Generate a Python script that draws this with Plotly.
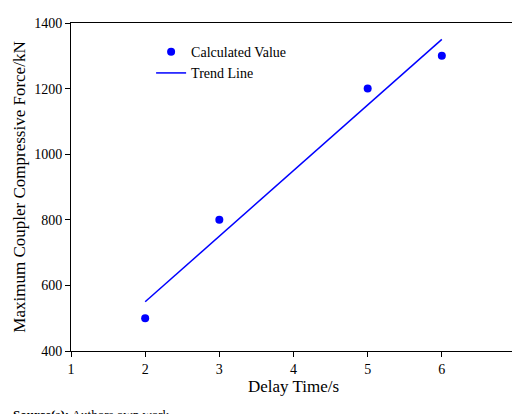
import plotly.graph_objects as go

delay = [2, 3, 5, 6]
force = [500, 800, 1200, 1300]
trend_x = [2, 6]
trend_y = [550, 1350]

fig = go.Figure()
fig.add_trace(go.Scatter(x=delay, y=force, mode='markers', name='Calculated Value',
                         marker=dict(color='#0000ff', size=8)))
fig.add_trace(go.Scatter(x=trend_x, y=trend_y, mode='lines', name='Trend Line',
                         line=dict(color='#0000ff', width=1.5)))

axis = dict(showline=True, linecolor='black', linewidth=1, mirror=True,
            ticks='outside', ticklen=5, tickcolor='black', showgrid=False, zeroline=False)
fig.update_xaxes(range=[1, 7], dtick=1, title=dict(text='Delay Time/s', standoff=4), **axis)
fig.update_yaxes(range=[400, 1400], dtick=200, title=dict(text='Maximum Coupler Compressive Force/kN', standoff=4), **axis)

fig.add_annotation(text='<b>Source(s):</b> Authors own work', xref='paper', yref='paper',
                   x=-0.135, y=-0.165, xanchor='left', yanchor='top', showarrow=False,
                   font=dict(size=13))

fig.update_layout(
    width=520, height=414,
    margin=dict(l=63, r=8, t=8, b=71),
    plot_bgcolor='white', paper_bgcolor='white',
    font=dict(family='Liberation Serif', size=14, color='black'),
    legend=dict(x=0.18, y=0.96, bgcolor='rgba(0,0,0,0)', font=dict(size=14)),
)

fig.write_html("out.html")
